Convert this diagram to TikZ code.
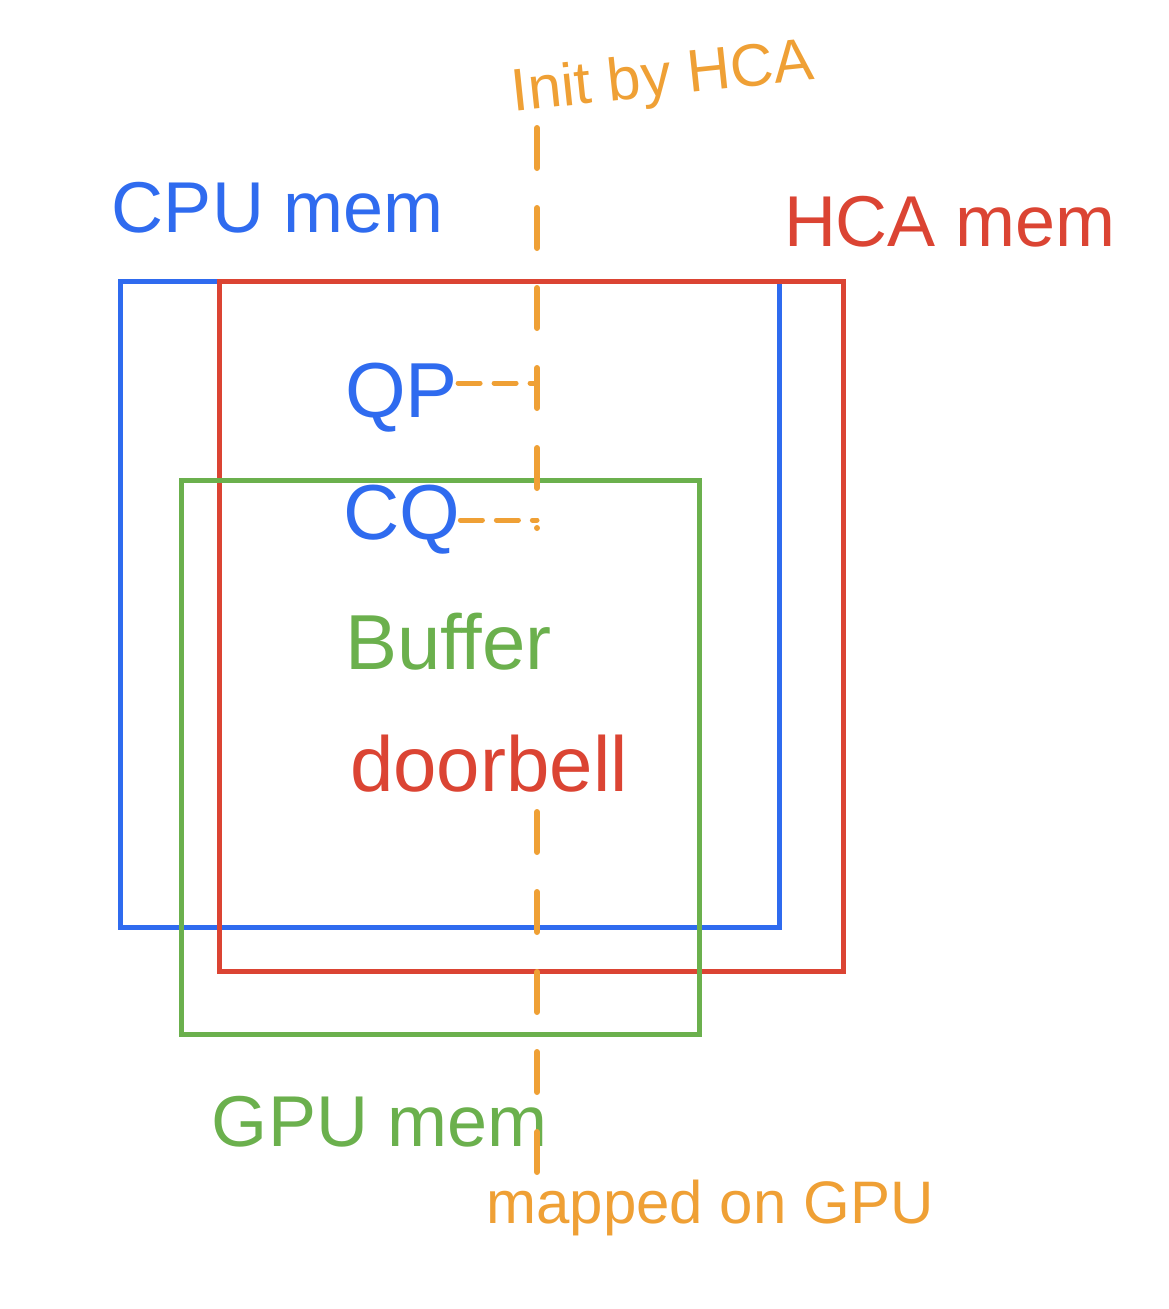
\documentclass[tikz,border=0pt]{standalone}
\usepackage{fontspec}
\setmainfont{Liberation Sans}
\usetikzlibrary{positioning,calc}
\definecolor{cpublue}{HTML}{2F6BEF}
\definecolor{hcared}{HTML}{DB4433}
\definecolor{gpugreen}{HTML}{6BB04D}
\definecolor{initorange}{HTML}{EFA035}
\tikzset{
  % memory region: plain rectangle, colour given per region
  region/.style={line width=5pt, line join=miter},
  % handwritten-size labels
  memlbl/.style={inner sep=0pt, font=\fontsize{72}{80}\selectfont},
  objlbl/.style={inner sep=0pt, font=\fontsize{78}{86}\selectfont},
  notelbl/.style={inner sep=0pt, text=initorange, font=\fontsize{60}{66}\selectfont},
  % the long orange dashed line and the short taps to it
  longdash/.style={draw=initorange, line width=6pt, line cap=round,
    dash pattern=on 40pt off 40pt},
  tapdash/.style={draw=initorange, line width=5pt, line cap=round,
    dash pattern=on 22pt off 14pt},
}
\newcommand{\region}[4]{%
  \draw[region,draw=#1] (#2) rectangle (#3) coordinate (#4);}

\begin{document}
\begin{tikzpicture}[x=1pt,y=-1pt]
\useasboundingbox (0,0) rectangle (1168,1309);

% ----- regions -----
\region{cpublue}{120,281}{779,927}{cpubox}
\region{hcared}{219,281}{843,971}{hcabox}
\region{gpugreen}{181,480}{699,1034}{gpubox}

% ----- region names -----
\node[memlbl,text=cpublue] (cpumem) at (278,208) {CPU mem};
\node[memlbl,text=hcared] (hcamem) at (950,222) {HCA mem};
\node[memlbl,text=gpugreen] (gpumem) at (380,1122) {GPU mem};

% ----- objects -----
\node[objlbl,text=cpublue,anchor=west] (qp) at (345,398) {QP};
\node[objlbl,text=cpublue,anchor=west] (cq) at (343,520) {CQ};
\node[objlbl,text=gpugreen,anchor=west] (buffer) at (345,642) {Buffer};
\node[objlbl,text=hcared,anchor=west] (doorbell) at (350,764) {doorbell};

% ----- notes -----
\node[notelbl,rotate=6] (init) at (663,80) {Init by HCA};
\node[notelbl] (mapped) at (710,1208) {mapped on GPU};

% ----- dashed line (hidden behind Buffer / doorbell) -----
\coordinate (linetop) at (537,128);
\coordinate (qptap) at (537,383);
\coordinate (cqtap) at (537,520);
\coordinate (lineupper) at (537,528);
\coordinate (linelower) at (537,812);
\coordinate (linebot) at (537,1178);
\draw[longdash] (linetop) -- (lineupper);
\draw[longdash] (linelower) -- (linebot);

% ----- taps from QP and CQ -----
\draw[tapdash] (qp.east |- qptap) -- (qptap);
\draw[tapdash] (cq.east |- cqtap) -- (cqtap);

\end{tikzpicture}
\end{document}
